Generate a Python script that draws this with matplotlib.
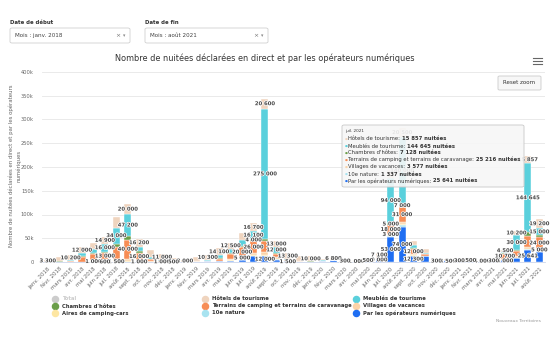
import matplotlib
matplotlib.use("Agg")
import matplotlib.pyplot as plt
import matplotlib.patheffects as pe
from matplotlib.lines import Line2D
from matplotlib.patches import FancyBboxPatch
import numpy as np

plt.rcParams["font.family"] = ["DejaVu Sans"]

W, H = 550, 350

# ---- data ------------------------------------------------------------------
MOIS = ["janv.", "févr.", "mars", "avr.", "mai", "juin", "juil.", "août",
        "sept.", "oct.", "nov.", "déc."]
ANNEES = [2018, 2019, 2020, 2021]
categories = [f"{m} {a}" for a in ANNEES for m in MOIS][:44]   # janv. 2018 -> août 2021

hotels = [3300, 8500, 10200, 12000, 14000, 14900, 22300, 20000, 16200, 13800, 11000, 6800,
          3000, 8000, 10300, 14100, 12500, 13200, 16700, 20600, 13000, 13300, 10000, 10000,
          3000, 6800, 3000, 1000, 2000, 7100, 18000, 20500, 8000, 7000, 1000, 2200,
          2000, 4000, 2000, 3000, 4500, 10200, 15857, 19200]
meubles = [500, 1500, 2000, 7000, 8000, 16000, 34000, 47200, 10000, 4000, 2000, 500,
           600, 1000, 2000, 6000, 9000, 13000, 16100, 275000, 12000, 2000, 1000, 600,
           500, 500, 300, 300, 500, 1000, 94000, 140000, 6000, 2000, 300, 500,
           300, 500, 500, 300, 3000, 30000, 144645, 15000]
chambres = [100, 200, 300, 1500, 2500, 3000, 6000, 7000, 3000, 1000, 300, 100,
            100, 200, 500, 1500, 2000, 3000, 4000, 4500, 2000, 500, 200, 100,
            100, 100, 0, 0, 100, 300, 5000, 7000, 1500, 500, 0, 100,
            100, 100, 100, 100, 1000, 3000, 7128, 4000]
terrains = [0, 0, 500, 9500, 12000, 13000, 26000, 40000, 16000, 4000, 1500, 0,
            0, 0, 0, 4000, 10000, 20000, 26000, 23000, 8000, 1000, 0, 0,
            0, 0, 0, 0, 0, 1000, 18000, 31000, 12000, 4000, 0, 0,
            0, 0, 0, 300, 10700, 11000, 25216, 24000]
villages = [200, 1000, 800, 800, 3000, 4000, 5000, 4100, 2500, 1500, 1000, 0,
            0, 1500, 1000, 1500, 3000, 5000, 4000, 6000, 3000, 1000, 500, 0,
            0, 0, 0, 0, 0, 0, 3000, 4000, 2000, 1000, 0, 0,
            0, 0, 0, 0, 2000, 3000, 3577, 5000]
aires = [0, 0, 0, 200, 1000, 1500, 1500, 2000, 1000, 0, 0, 0,
         0, 0, 0, 0, 1000, 1500, 1500, 1500, 1000, 0, 0, 0,
         0, 0, 0, 0, 0, 0, 2000, 2000, 1000, 0, 0, 0,
         0, 0, 0, 0, 0, 0, 0, 0]
nature = [0, 0, 0, 0, 500, 600, 0, 1000, 0, 0, 0, 0,
          0, 0, 0, 0, 0, 1000, 1000, 1000, 500, 0, 0, 0,
          0, 0, 0, 0, 0, 0, 1500, 4300, 500, 0, 0, 0,
          0, 0, 0, 0, 0, 1000, 1337, 1000]
operateurs = [0, 0, 0, 0, 0, 0, 0, 0, 0, 0, 0, 0,
              0, 0, 1200, 1500, 3000, 3500, 12000, 12000, 5000, 1500, 1000, 1000,
              3000, 3500, 2000, 500, 3000, 9000, 53000, 74000, 12300, 12200, 2000, 3500,
              2500, 3000, 4000, 2000, 5000, 8000, 25641, 22000]

# legend order (Highcharts draws first series on top of the stack)
SERIES = [
    ("Hôtels de tourisme", hotels, "#efd4be"),
    ("Meublés de tourisme", meubles, "#5ad0dc"),
    ("Chambres d'hôtes", chambres, "#6b9e4a"),
    ("Terrains de camping et terrains de caravanage", terrains, "#f78d55"),
    ("Villages de vacances", villages, "#fbd3a8"),
    ("Aires de camping-cars", aires, "#fde6a2"),
    ("10e nature", nature, "#a8e3f0"),
    ("Par les opérateurs numériques", operateurs, "#1f6ef2"),
]
TOTAL_COLOR = "#cccccc"

yticks = [0, 50000, 100000, 150000, 200000, 250000, 300000, 350000, 400000]
ytick_labels = ["0", "50k", "100k", "150k", "200k", "250k", "300k", "350k", "400k"]

tip_month = "juil. 2021"
tip_idx = categories.index(tip_month)


def fmt(v):
    return f"{int(round(v)):,}".replace(",", " ")


# ---- figure ------------------------------------------------------------------
fig = plt.figure(figsize=(W / 100, H / 100), dpi=100)
fig.patch.set_facecolor("white")
ax = fig.add_axes([42 / W, 1 - 262 / H, 503 / W, 190 / H])

x = np.arange(len(categories))
bottom = np.zeros(len(categories))
segs = []
for name, vals, col in reversed(SERIES):
    v = np.array(vals, dtype=float)
    ax.bar(x, v, bottom=bottom, width=0.62, color=col, edgecolor="white",
           linewidth=0.3, zorder=3)
    for i in range(len(x)):
        if v[i] > 0:
            segs.append((v[i], i, bottom[i] + v[i] / 2))
    bottom += v

# data labels: keep the biggest ones, hide the overlapping rest
PX_CAT = 503 / len(categories)
PX_VAL = 400000 / 190
kept = []
for v, i, yc in sorted(segs, reverse=True):
    txt = fmt(v)
    hw = len(txt) * 3.1 / 2 / PX_CAT * 0.85
    hh = 2.3 * PX_VAL
    if any(abs(i - ki) < hw + khw and abs(yc - ky) < hh + khh
           for ki, ky, khw, khh in kept):
        continue
    kept.append((i, yc, hw, hh))
    ax.text(i, yc, txt, ha="center", va="center", fontsize=3.8, fontweight="bold",
            color="#4a4a4a", zorder=5,
            path_effects=[pe.withStroke(linewidth=1.1, foreground="white")])

ax.set_xlim(-0.5, len(categories) - 0.5)
ax.set_ylim(0, 400000)
ax.set_yticks(yticks)
ax.set_yticklabels(ytick_labels)
ax.set_xticks(x)
ax.set_xticklabels(categories, rotation=45, ha="right", rotation_mode="anchor")
ax.tick_params(axis="both", length=0, labelsize=3.9, labelcolor="#666666")
ax.tick_params(axis="y", pad=6, labelsize=3.7)
ax.tick_params(axis="x", pad=3)
ax.grid(axis="y", color="#e6e6e6", lw=0.6, zorder=0)
ax.set_axisbelow(True)
for s in ("top", "right", "left"):
    ax.spines[s].set_visible(False)
ax.spines["bottom"].set_color("#ccd6eb")
ax.spines["bottom"].set_linewidth(0.6)

fig.text(15 / W, 1 - 166 / H,
         "Nombre de nuitées déclarées en direct et par les opérateurs\nnumériques",
         rotation=90, ha="center", va="center", fontsize=3.9, color="#666666",
         linespacing=1.5)

fig.text(265 / W, 1 - 58 / H,
         "Nombre de nuitées déclarées en direct et par les opérateurs numériques",
         ha="center", va="center", fontsize=5.9, color="#333333")

# ---- tooltip -----------------------------------------------------------------
ax.add_patch(FancyBboxPatch((342 / W, 1 - 187 / H), (524 - 342) / W, (187 - 125) / H,
                            boxstyle="round,pad=0,rounding_size=0.004",
                            transform=fig.transFigure, fc=(0.97, 0.97, 0.97, 0.9),
                            ec="#c8c8c8", lw=0.6, zorder=10, clip_on=False))
ax.text(345 / W, 1 - 131.5 / H, tip_month, transform=fig.transFigure, fontsize=3.0,
        color="#333333", va="center", zorder=11)
row = 0
for name, vals, col in SERIES:
    if vals[tip_idx] == 0:
        continue
    yy = 1 - (139 + 7 * row) / H
    ax.text(344.5 / W, yy, "●", transform=fig.transFigure, fontsize=2.4, color=col,
            va="center", zorder=11)
    t = ax.text(348.5 / W, yy, f"{name}: ", transform=fig.transFigure, fontsize=3.75,
                color="#333333", va="center", zorder=11)
    ax.annotate(f"{fmt(vals[tip_idx])} nuitées", xy=(1, 0.5), xycoords=t,
                va="center", ha="left", fontsize=3.75, fontweight="bold",
                color="#333333", zorder=11, annotation_clip=False)
    row += 1

# ---- legend ------------------------------------------------------------------
legend_items = [("Total", TOTAL_COLOR)] + [(n, c) for n, _, c in SERIES]
for k, (name, col) in enumerate(legend_items):
    cx = [55, 205, 356][k % 3]
    cy = [299, 306, 313][k // 3]
    fig.add_artist(Line2D([cx / W], [1 - cy / H], transform=fig.transFigure,
                          marker="o", ms=4.4, color=col, ls=""))
    fig.text((cx + 7) / W, 1 - cy / H, name, fontsize=3.8, fontweight="bold",
             va="center", color="#cccccc" if name == "Total" else "#333333")

fig.text(541 / W, 1 - 321 / H, "Nouveaux Territoires", fontsize=3.2, color="#999999",
         ha="right", va="center")

# ---- page controls -------------------------------------------------------------
for lx, label, value, rx in [(10, "Date de début", "Mois : janv. 2018", 130),
                             (145, "Date de fin", "Mois : août 2021", 268)]:
    fig.text(lx / W, 1 - 22 / H, label, fontsize=3.9, fontweight="bold",
             color="#333333", va="center")
    fig.add_artist(FancyBboxPatch((lx / W, 1 - 43 / H), (rx - lx) / W, 15 / H,
                                  boxstyle="round,pad=0,rounding_size=0.004",
                                  transform=fig.transFigure, fc="white",
                                  ec="#d0d0d0", lw=0.6))
    fig.text((lx + 5) / W, 1 - 35.5 / H, value, fontsize=4.1, color="#444444",
             va="center")
    fig.text((rx - 12) / W, 1 - 35.5 / H, "×", fontsize=4.4, color="#777777",
             va="center", ha="center")
    fig.text((rx - 6) / W, 1 - 35.5 / H, "▾", fontsize=3.4, color="#888888",
             va="center", ha="center")

for dy in (57.5, 60.5, 63.5):
    fig.add_artist(Line2D([533 / W, 542 / W], [1 - dy / H] * 2,
                          transform=fig.transFigure, color="#666666", lw=0.8))

fig.add_artist(FancyBboxPatch((498 / W, 1 - 90 / H), 43 / W, 14 / H,
                              boxstyle="round,pad=0,rounding_size=0.003",
                              transform=fig.transFigure, fc="#f7f7f7",
                              ec="#cccccc", lw=0.6))
fig.text(519.5 / W, 1 - 83 / H, "Reset zoom", fontsize=4.0, color="#333333",
         ha="center", va="center")

fig.savefig("out.png", dpi=100)
